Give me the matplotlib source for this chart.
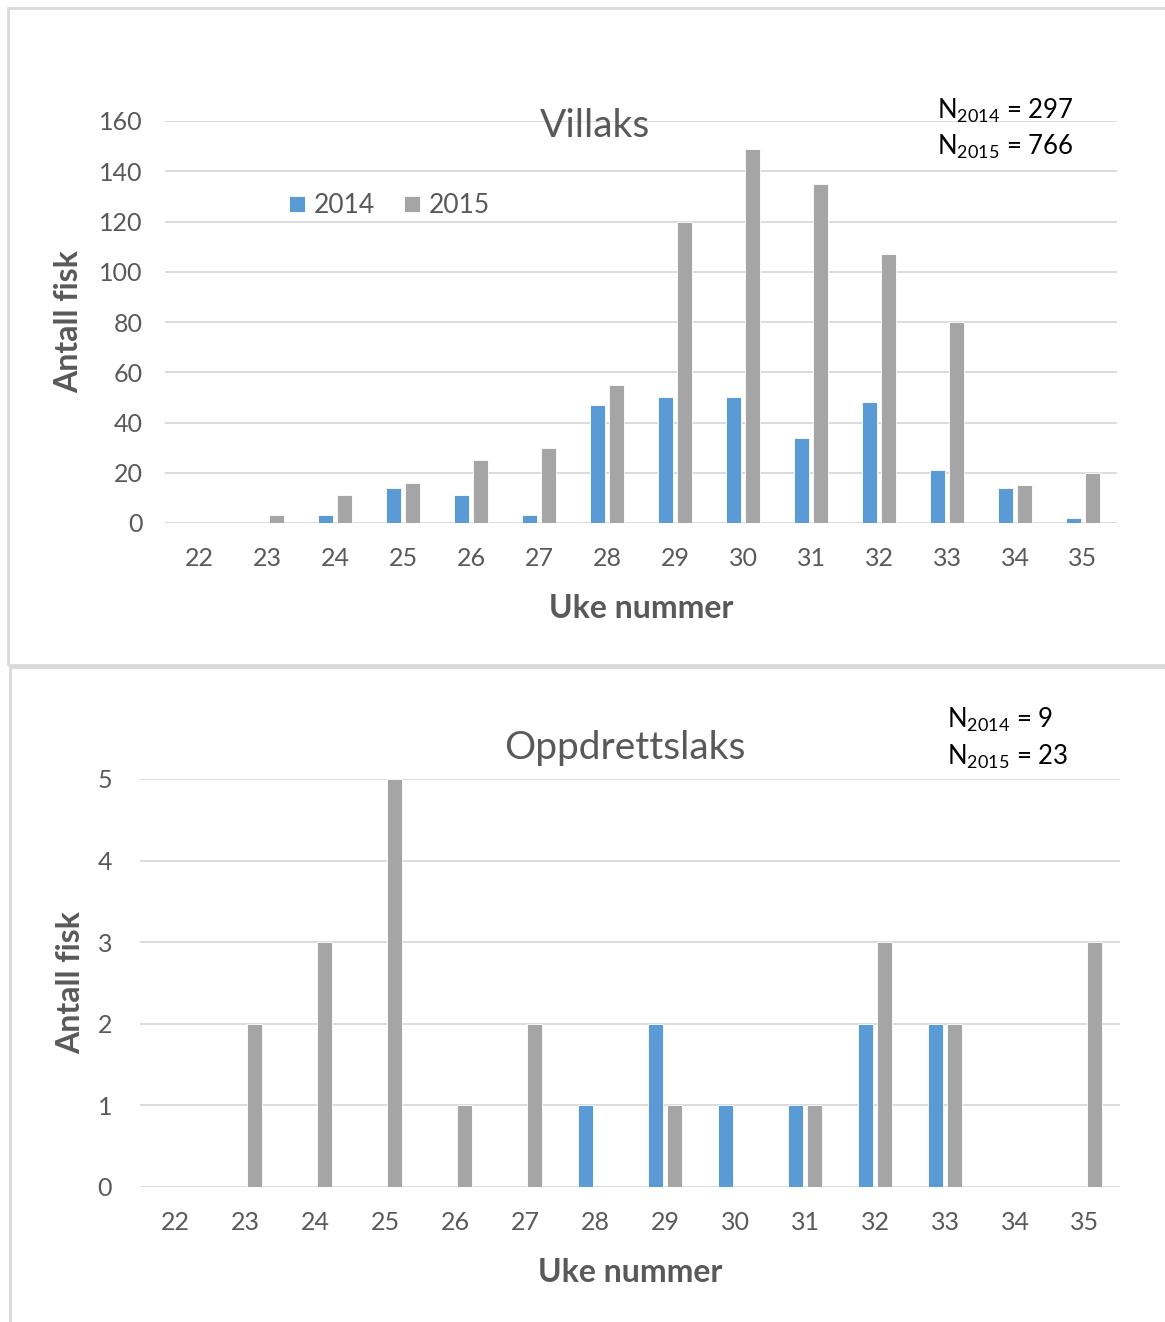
import matplotlib
matplotlib.use("Agg")
import matplotlib.pyplot as plt
from matplotlib.patches import Rectangle
import numpy as np

weeks = ["22", "23", "24", "25", "26", "27", "28", "29", "30", "31", "32", "33", "34", "35"]

villaks_2014 = [0, 0, 3, 14, 11, 3, 47, 50, 50, 34, 48, 21, 14, 2]
villaks_2015 = [0, 3, 11, 16, 25, 30, 55, 120, 149, 135, 107, 80, 15, 20]

oppdrett_2014 = [0, 0, 0, 0, 0, 0, 1, 2, 1, 1, 2, 2, 0, 0]
oppdrett_2015 = [0, 2, 3, 5, 1, 2, 0, 1, 0, 1, 3, 2, 0, 3]

years = ["2014", "2015"]
n_villaks = [297, 766]
n_oppdrett = [9, 23]

BLUE = "#5B9BD5"
GRAY = "#A5A5A5"
GRID = "#D9D9D9"
TXT = "#595959"

plt.rcParams['font.family'] = ['Lato', 'DejaVu Sans']
plt.rcParams['mathtext.default'] = 'regular'

W, H = 1165, 1322
fig = plt.figure(figsize=(W / 100, H / 100), dpi=100)


def px_axes(x0, y0, x1, y1):
    # pixel box (top-left origin) -> figure fraction
    return fig.add_axes([x0 / W, 1 - y1 / H, (x1 - x0) / W, (y1 - y0) / H])


def panel(ax, a, b, ymax, ystep, pad):
    x = np.arange(len(weeks))
    w = 0.21
    ax.bar(x - 0.14, a, w, color=BLUE, edgecolor="white", linewidth=0.6, zorder=3, label=years[0])
    ax.bar(x + 0.14, b, w, color=GRAY, edgecolor="white", linewidth=0.6, zorder=3, label=years[1])
    ax.set_xlim(-0.5, len(weeks) - 0.5)
    ax.set_ylim(0, ymax)
    ax.set_xticks(x)
    ax.set_xticklabels(weeks)
    ax.set_yticks(np.arange(0, ymax + 0.01, ystep))
    ax.yaxis.grid(True, color=GRID, linewidth=1.3, zorder=0)
    ax.set_axisbelow(True)
    for s in ax.spines.values():
        s.set_visible(False)
    ax.tick_params(length=0, labelsize=18, labelcolor=TXT)
    ax.tick_params(axis="x", pad=17)
    ax.tick_params(axis="y", pad=pad)
    ax.set_xlabel("Uke nummer", fontsize=23, fontweight="bold", color=TXT)
    ax.set_ylabel("Antall fisk", fontsize=23, fontweight="bold", color=TXT)


# top panel: Villaks
ax1 = px_axes(165, 121, 1117, 523)
panel(ax1, villaks_2014, villaks_2015, 160, 20, 16)
ax1.yaxis.set_label_coords(-0.086, 0.5)
ax1.xaxis.set_label_coords(0.5, -0.177)
fig.text(595 / W, 1 - 126 / H, "Villaks", fontsize=28, color=TXT, ha="center", va="center")
leg = ax1.legend(loc="upper left", bbox_to_anchor=(0.13, 0.82), ncol=2, frameon=False,
                 fontsize=19, handlelength=0.6, handleheight=0.6, handletextpad=0.35,
                 columnspacing=1.1, labelcolor=TXT, borderaxespad=0, borderpad=0)
for i, yr in enumerate(years):
    fig.text(937 / W, 1 - (111 + 36 * i) / H, r"N$_{%s}$ = %d" % (yr, n_villaks[i]),
             fontsize=18.5, color="black", ha="left", va="center")

# bottom panel: Oppdrettslaks
ax2 = px_axes(140, 779, 1120, 1187)
panel(ax2, oppdrett_2014, oppdrett_2015, 5, 1, 20)
ax2.yaxis.set_label_coords(-0.056, 0.5)
ax2.xaxis.set_label_coords(0.5, -0.174)
fig.text(625 / W, 1 - 748 / H, "Oppdrettslaks", fontsize=28, color=TXT, ha="center", va="center")
for i, yr in enumerate(years):
    fig.text(947 / W, 1 - (720 + 37 * i) / H, r"N$_{%s}$ = %d" % (yr, n_oppdrett[i]),
             fontsize=18.5, color="black", ha="left", va="center")

# panel borders
fig.patches.append(Rectangle((8 / W, 1 - 665 / H), 1.0, 657 / H, transform=fig.transFigure,
                             fill=False, edgecolor=GRID, linewidth=2))
fig.patches.append(Rectangle((10 / W, -0.01), 1.0, 1 - 667 / H + 0.01, transform=fig.transFigure,
                             fill=False, edgecolor=GRID, linewidth=2))

fig.savefig("out.png", dpi=100)
